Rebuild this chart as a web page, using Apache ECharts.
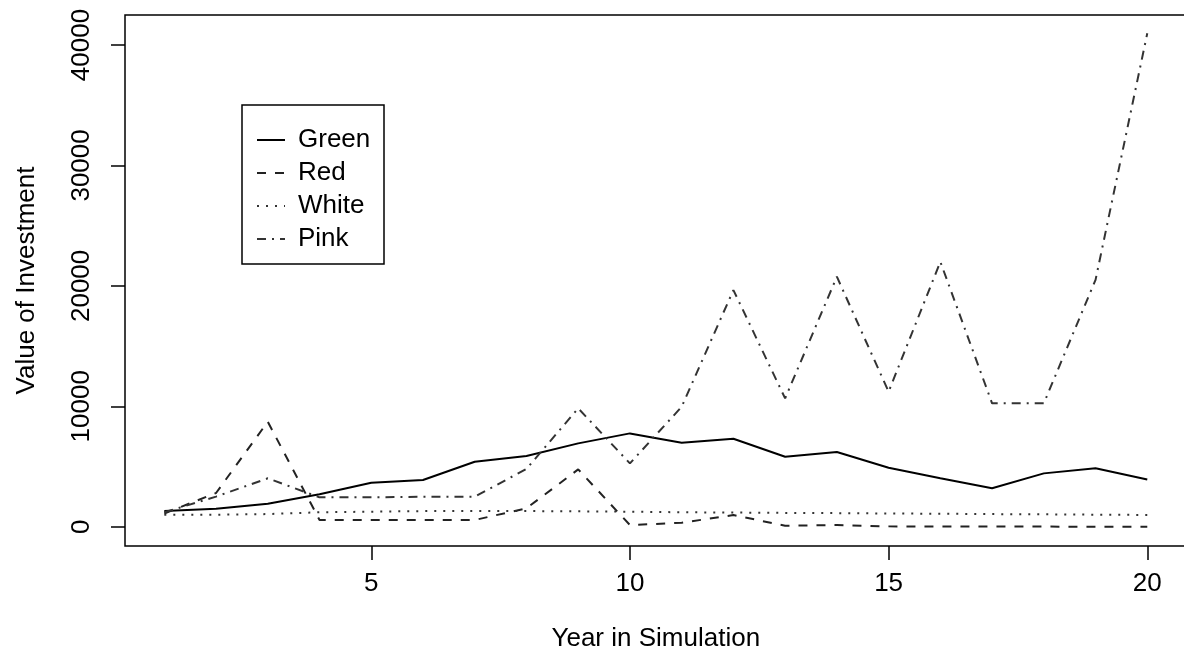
<!DOCTYPE html>
<html>
<head>
<meta charset="utf-8">
<script src="https://cdn.jsdelivr.net/npm/echarts@6/dist/echarts.min.js"></script>
<style>html,body{margin:0;padding:0;background:#fff;}#c{width:1184px;height:659px;}</style>
</head>
<body>
<div id="c"></div>
<script>
const years = [1,2,3,4,5,6,7,8,9,10,11,12,13,14,15,16,17,18,19,20];
const green = [1300,1500,1900,2700,3650,3880,5400,5870,6920,7750,6980,7310,5810,6200,4900,4020,3190,4430,4850,3930];
const red   = [1100,2800,8720,560,560,560,560,1530,4760,140,330,970,80,140,30,20,10,10,5,5];
const white = [1000,1000,1050,1200,1250,1300,1300,1300,1280,1250,1200,1180,1150,1130,1100,1080,1050,1030,1000,980];
const pink  = [1200,2500,4020,2440,2440,2490,2490,4800,9830,5260,9960,19650,10660,20760,11210,22000,10250,10250,20500,40970];
const xTicks = [5,10,15,20];
const yTicks = [0,10000,20000,30000,40000];
const names = ['Green','Red','White','Pink'];

const FONT = 'Liberation Sans';
const pts = arr => years.map((y,i)=>[y, arr[i]]);
const mk = (name, arr, type, color) => ({
  name, type:'line', data: pts(arr), symbol:'none', silent:true, animation:false,
  lineStyle:{color, width:2, type}, itemStyle:{color}
});

const chart = echarts.init(document.getElementById('c'));
chart.setOption({
  backgroundColor:'#fff',
  animation:false,
  grid:{left:125, top:15, width:1061.6, height:531, show:true, borderColor:'#000', borderWidth:1.5, containLabel:false, outerBoundsMode:'none'},
  xAxis:{
    type:'value', min:0.24, max:20.76,
    name:'Year in Simulation', nameLocation:'middle', nameGap:80,
    nameTextStyle:{fontFamily:FONT, fontSize:26, color:'#000'},
    axisLine:{show:false, onZero:false},
    axisTick:{show:true, length:14, inside:false, customValues:xTicks, lineStyle:{color:'#000', width:1.5}},
    axisLabel:{customValues:xTicks, fontFamily:FONT, fontSize:26, color:'#000', margin:25},
    splitLine:{show:false}
  },
  yAxis:{
    type:'value', min:-1600, max:42490,
    name:'Value of Investment', nameLocation:'middle', nameGap:85, nameRotate:90,
    nameTextStyle:{fontFamily:FONT, fontSize:26, color:'#000'},
    axisLine:{show:false, onZero:false},
    axisTick:{show:true, length:14, inside:false, customValues:yTicks, lineStyle:{color:'#000', width:1.5}},
    axisLabel:{customValues:yTicks, rotate:90, fontFamily:FONT, fontSize:26, color:'#000', margin:30,
      formatter: v => String(v)},
    splitLine:{show:false}
  },
  legend:{
    data:names, orient:'vertical', left:256, top:127, selectedMode:false,
    itemWidth:28, itemHeight:20, itemGap:7, padding:0,
    itemStyle:{opacity:0, borderWidth:0},
    textStyle:{fontFamily:FONT, fontSize:26, color:'#000', lineHeight:26, padding:[0,0,0,8]}
  },
  graphic:[{type:'rect', shape:{x:242, y:105, width:142, height:159}, style:{fill:'none', stroke:'#000', lineWidth:1.5}, silent:true}],
  series:[
    mk(names[0], green, 'solid', '#000'),
    mk(names[1], red, [9,9], '#222'),
    mk(names[2], white, [2,7], '#333'),
    mk(names[3], pink, [9,6,2,6], '#333')
  ]
});
</script>
</body>
</html>
